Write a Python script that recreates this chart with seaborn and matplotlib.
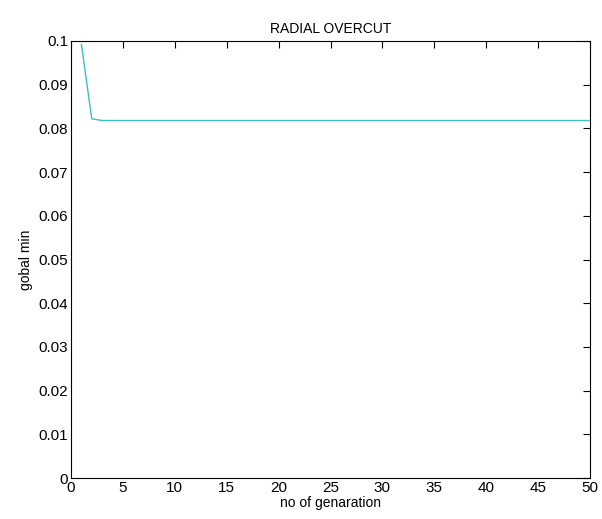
import numpy as np
import pandas as pd
import matplotlib
matplotlib.use("Agg")
import matplotlib.pyplot as plt
import seaborn as sns

# data
generation = list(range(1, 51))
gobal_min = [0.0993, 0.0822] + [0.0818] * 48

df = pd.DataFrame({"generation": generation, "gobal_min": gobal_min})

sns.set_style("white")
plt.rcParams['font.family'] = ['Liberation Sans', 'DejaVu Sans']
plt.rcParams['font.size'] = 10
plt.rcParams['text.color'] = 'black'
plt.rcParams['axes.labelcolor'] = 'black'

fig = plt.figure(figsize=(6.02, 5.19), dpi=100)
ax = fig.add_axes([71 / 602, (519 - 478) / 519, 519 / 602, 437 / 519])

sns.lineplot(data=df, x="generation", y="gobal_min", ax=ax, color="#3cc0c0", linewidth=1.0)

ax.set_xlim(0, 50)
ax.set_ylim(0, 0.1)
ax.set_xticks(np.arange(0, 51, 5))
ax.set_yticks(np.arange(0, 0.101, 0.01))
ax.set_yticklabels(["0", "0.01", "0.02", "0.03", "0.04", "0.05", "0.06", "0.07", "0.08", "0.09", "0.1"])
ax.tick_params(direction="in", top=True, right=True, length=5, width=0.8, labelsize=11, pad=2, colors="black")
for s in ax.spines.values():
    s.set_color("black")
    s.set_linewidth(0.8)

ax.set_title("RADIAL OVERCUT", fontsize=10, pad=6, color="black")
ax.set_xlabel("no of genaration", fontsize=10, labelpad=1, color="black")
ax.set_ylabel("gobal min", fontsize=10, labelpad=4, color="black")

fig.savefig("out.png", dpi=100, facecolor="white")
